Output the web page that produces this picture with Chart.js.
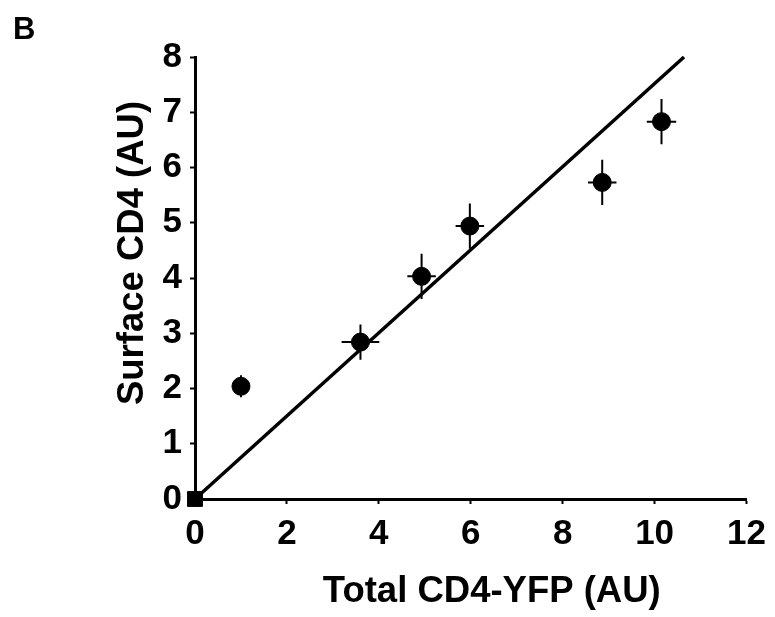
<!DOCTYPE html>
<html>
<head>
<meta charset="utf-8">
<script src="https://cdn.jsdelivr.net/npm/chart.js@4/dist/chart.umd.min.js"></script>
<style>
  html, body { margin: 0; padding: 0; background: #fff; }
  #wrap { position: relative; width: 775px; height: 617px; }
  #panel { position: absolute; left: 13px; top: 13px; font: bold 31px/1 "Liberation Sans", Arial, sans-serif; color: #000; }
  canvas { display: block; }
</style>
</head>
<body>
<div id="wrap">
  <canvas id="c" width="775" height="617"></canvas>
  <div id="panel">B</div>
</div>
<script>
// Data
const totalCD4 = [1.0, 3.6, 4.93, 5.98, 8.86, 10.15];
const surfaceCD4 = [2.04, 2.84, 4.03, 4.94, 5.73, 6.83];
const totalErr = [0.15, 0.41, 0.31, 0.31, 0.31, 0.32];
const surfaceErr = [0.2, 0.32, 0.41, 0.41, 0.41, 0.41];
const fitX = [0, 10.64];
const fitY = [0, 8];
const originX = [0];
const originY = [0];
const xTicks = [0, 2, 4, 6, 8, 10, 12];
const yTicks = [0, 1, 2, 3, 4, 5, 6, 7, 8];
const xTitle = 'Total CD4-YFP (AU)';
const yTitle = 'Surface CD4 (AU)';

const FONT = '"Liberation Sans", Arial, sans-serif';

const points = totalCD4.map((x, i) => ({x: x, y: surfaceCD4[i], ex: totalErr[i], ey: surfaceErr[i]}));
const fit = fitX.map((x, i) => ({x: x, y: fitY[i]}));
const origin = originX.map((x, i) => ({x: x, y: originY[i]}));

const errorBars = {
  id: 'errorBars',
  afterDatasetsDraw(chart) {
    const ctx = chart.ctx;
    const xs = chart.scales.x, ys = chart.scales.y;
    ctx.save();
    ctx.strokeStyle = '#000';
    ctx.lineWidth = 2;
    points.forEach(p => {
      const px = xs.getPixelForValue(p.x), py = ys.getPixelForValue(p.y);
      ctx.beginPath();
      ctx.moveTo(px, ys.getPixelForValue(p.y - p.ey));
      ctx.lineTo(px, ys.getPixelForValue(p.y + p.ey));
      ctx.moveTo(xs.getPixelForValue(p.x - p.ex), py);
      ctx.lineTo(xs.getPixelForValue(p.x + p.ex), py);
      ctx.stroke();
    });
    ctx.restore();
  }
};

// Axis titles, placed like the original (slightly off the plot-area centre)
const axisTitles = {
  id: 'axisTitles',
  afterDraw(chart) {
    const ctx = chart.ctx;
    const a = chart.chartArea;
    ctx.save();
    ctx.fillStyle = '#000';
    ctx.font = 'bold 36.5px ' + FONT;
    ctx.textAlign = 'center';
    ctx.textBaseline = 'middle';
    ctx.fillText(xTitle, (a.left + a.right) / 2 + 21, a.bottom + 93);
    ctx.translate(a.left - 62, (a.top + a.bottom) / 2 - 25);
    ctx.rotate(-Math.PI / 2);
    ctx.fillText(yTitle, 0, 0);
    ctx.restore();
  }
};

new Chart(document.getElementById('c'), {
  type: 'scatter',
  data: {
    datasets: [
      {
        type: 'line',
        data: fit,
        borderColor: '#000',
        borderWidth: 3.5,
        pointRadius: 0,
        fill: false,
        clip: false,
        order: 3
      },
      {
        data: points,
        backgroundColor: '#000',
        borderColor: '#000',
        pointRadius: 9,
        pointHoverRadius: 9,
        clip: false,
        order: 1
      },
      {
        data: origin,
        backgroundColor: '#000',
        borderColor: '#000',
        pointStyle: 'rect',
        pointRadius: 10.5,
        pointHoverRadius: 10.5,
        clip: false,
        order: 0
      }
    ]
  },
  options: {
    responsive: false,
    animation: false,
    events: [],
    layout: { padding: { left: 0, right: 27, top: 57, bottom: 0 } },
    plugins: { legend: { display: false }, tooltip: { enabled: false } },
    scales: {
      x: {
        type: 'linear',
        min: 0, max: 12,
        afterBuildTicks(s) { s.ticks = xTicks.map(v => ({value: v})); },
        afterFit(s) { s.height = 118; },
        border: { display: true, color: '#000', width: 3 },
        grid: { display: true, drawOnChartArea: false, drawTicks: true, tickLength: 5, tickWidth: 2, tickColor: '#000' },
        ticks: { color: '#000', padding: 9, maxRotation: 0, font: { family: FONT, size: 35, weight: 'bold' } },
        title: { display: false, text: xTitle }
      },
      y: {
        type: 'linear',
        min: 0, max: 8,
        afterBuildTicks(s) { s.ticks = yTicks.map(v => ({value: v})); },
        afterFit(s) { s.width = 195; },
        border: { display: true, color: '#000', width: 3 },
        grid: { display: true, drawOnChartArea: false, drawTicks: true, tickLength: 5, tickWidth: 2, tickColor: '#000' },
        ticks: { color: '#000', padding: 8, font: { family: FONT, size: 35, weight: 'bold' } },
        title: { display: false, text: yTitle }
      }
    }
  },
  plugins: [errorBars, axisTitles]
});
</script>
</body>
</html>
